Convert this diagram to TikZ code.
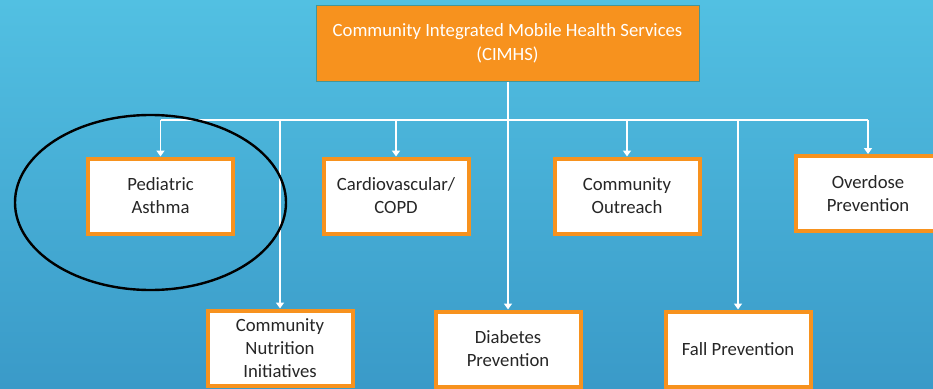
\documentclass[tikz,border=0pt]{standalone}
\usepackage{fontspec}
\setmainfont{Carlito}
\usetikzlibrary{arrows.meta,shapes.geometric}
\definecolor{bgtop}{RGB}{82,192,226}
\definecolor{bgbot}{RGB}{58,154,200}
\definecolor{orng}{RGB}{247,146,30}
\definecolor{txt}{RGB}{38,38,38}
\definecolor{tealedge}{RGB}{70,150,150}
\tikzset{
  subbox/.style={draw=orng, line width=4pt, fill=white, minimum width=145pt, minimum height=75pt,
    inner sep=0pt, align=center, text=txt, font=\fontsize{18.7pt}{23pt}\selectfont},
  topbox/.style={draw=tealedge, line width=1pt, fill=orng, minimum width=383pt, minimum height=76pt,
    inner sep=0pt, align=center, text=white, font=\fontsize{18.7pt}{24pt}\selectfont},
  conn/.style={draw=white, line width=1.6pt},
  arr/.style={conn, -{Triangle[width=8pt,length=6pt]}}
}
\begin{document}
\begin{tikzpicture}[x=1pt,y=-1pt]
\useasboundingbox (0,0) rectangle (933,388);
\shade[shading angle=15, top color=bgtop, bottom color=bgbot] (0,0) rectangle (933,388);

\node[topbox] (top) at (507.5,43) {Community Integrated Mobile Health Services\\(CIMHS)};

\node[subbox] (ped) at (160.5,196) {Pediatric\\Asthma};
\node[subbox] (card) at (396,196) {Cardiovascular/\\COPD};
\node[subbox] (out) at (627,196) {Community\\Outreach};
\node[subbox] (od) at (868,193.5) {Overdose\\Prevention};
\node[subbox] (nut) at (280,348) {Community\\Nutrition\\Initiatives};
\node[subbox] (dia) at (508,349) {Diabetes\\Prevention};
\node[subbox] (fall) at (738,349) {Fall Prevention};

\coordinate (j) at (508,120);
\coordinate (bl) at (160.5,120);
\coordinate (br) at (868,120);

\draw[conn] (top.south -| j) -- (j);
\draw[conn] (bl) -- (br);
\draw[arr] (bl) -- (ped.north);
\draw[arr] (card.north |- j) -- (card.north);
\draw[arr] (out.north |- j) -- (out.north);
\draw[arr] (br) -- (od.north);
\draw[arr] (nut.north |- j) -- (nut.north);
\draw[arr] (j) -- (dia.north);
\draw[arr] (fall.north |- j) -- (fall.north);

\node[draw=black, line width=2.4pt, ellipse, minimum width=271pt, minimum height=175pt, inner sep=0pt] (circ) at (150.5,202.5) {};
\end{tikzpicture}
\end{document}
